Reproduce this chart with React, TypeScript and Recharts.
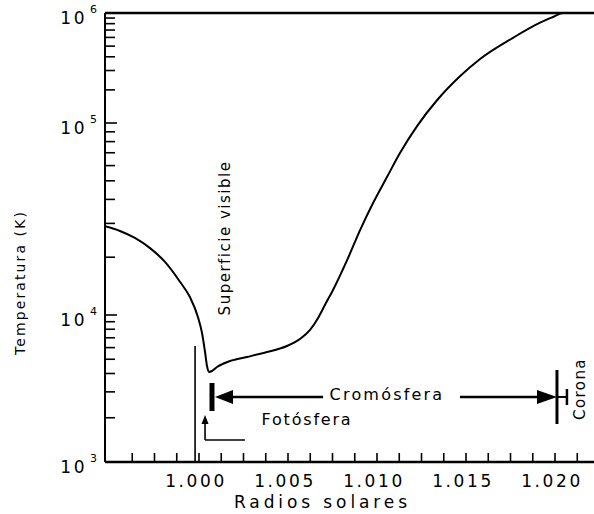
import React from 'react';
import { LineChart, Line, XAxis, YAxis, ReferenceLine, ReferenceDot } from 'recharts';

// ---- data ----
const radius = [
  0.99472, 0.99556, 0.9964, 0.99725, 0.99809, 0.99893, 0.99949, 0.99994, 1.00017, 1.00034,
  1.00045, 1.00056, 1.00073, 1.00101, 1.00174, 1.0027, 1.00382, 1.00494, 1.00567, 1.00624,
  1.00669, 1.00708, 1.00753, 1.00832, 1.00905, 1.00978, 1.01056, 1.01129, 1.01225, 1.01337,
  1.01466, 1.01579, 1.01764, 1.01916, 1.01989, 1.02045, 1.02219,
];
const temperature = [
  29000, 27400, 25200, 22300, 18900, 14900, 12400, 9700, 7540, 5600,
  4500, 4100, 4160, 4430, 4860, 5180, 5600, 6150, 6870, 7910,
  9540, 11300, 13500, 19300, 27700, 38300, 52300, 69800, 96400, 161000,
  266000, 382000, 595000, 818000, 920000, 1000000, 1000000,
];

const X_TICKS = [
  0.99625, 0.9975, 0.99875, 1.0, 1.00125, 1.0025, 1.00375, 1.005, 1.00625, 1.0075, 1.00875,
  1.01, 1.01125, 1.0125, 1.01375, 1.015, 1.01625, 1.0175, 1.01875, 1.02, 1.02125,
];
const X_TICK_LABELS = ['1.000', '1.005', '1.010', '1.015', '1.020'];
const Y_MAJOR = [1e3, 1e4, 1e5, 1e6];
const Y_EXP_LABELS = ['3', '4', '5', '6'];
const Y_MINOR = [
  2e3, 3e3, 4e3, 5e3, 6e3, 7e3, 8e3, 9e3,
  2e4, 3e4, 4e4, 5e4, 6e4, 7e4, 8e4, 9e4,
  2e5, 3e5, 4e5, 5e5, 6e5, 7e5, 8e5, 9e5,
];

// annotation anchors (data coordinates)
const SURFACE = { x: 0.99978, yTop: 6150, labelX: 1.00146, labelY: 25180 };
const PHOTO = { x: 1.00034, base: 1411, tip: 2088, endX: 1.00258, labelX: 1.00607, labelY: 1931 };
const CHROMO = {
  t: 2770, barX: 1.00073, barLo: 2222, barHi: 3446,
  leftTip: 1.0009, leftEnd: 1.00697, rightStart: 1.01466, rightTip: 1.02011,
  rBarLo: 1814, rBarHi: 4226, stubX: 1.02067, stubLo: 2443, stubHi: 3138,
  labelX: 1.01056, labelY: 2857,
};
const CORONA = { x: 1.0214, y: 3138 };

const data = radius.map((r, i) => ({ r, t: temperature[i] }));

// layout
const CHART_W = 594;
const CHART_H = 514;
const Y_AXIS_W = 105;
const X_AXIS_H = 52;
const TOP = 13;

// printed axis: decades are not equally spaced in the original drawing
const DECADE_POS = [0, 0.3274, 0.755, 1];
function brokenLogScale(): any {
  let dom: number[] = [1e3, 1e6];
  let rng: number[] = [1, 0];
  const scale: any = (v: number) => {
    const lo = Math.log10(dom[0]);
    const lv = Math.log10(v) - lo;
    const n = DECADE_POS.length - 1;
    const i = Math.min(Math.max(Math.floor(lv), 0), n - 1);
    const f = DECADE_POS[i] + (lv - i) * (DECADE_POS[i + 1] - DECADE_POS[i]);
    return rng[0] + f * (rng[1] - rng[0]);
  };
  scale.domain = (d?: number[]) => {
    if (d === undefined) return dom.slice();
    dom = d.map(Number);
    return scale;
  };
  scale.range = (r?: number[]) => {
    if (r === undefined) return rng.slice();
    rng = r.map(Number);
    return scale;
  };
  scale.copy = () => {
    const s = brokenLogScale();
    s.domain(dom);
    s.range(rng);
    return s;
  };
  scale.ticks = () => [...Y_MAJOR, ...Y_MINOR];
  return scale;
}
const yScale = brokenLogScale();

const FONT = 'DejaVu Sans';

const XTick = (p: any) => {
  const { x, y, payload } = p;
  const v = payload.value;
  const label = X_TICK_LABELS.find((l) => Math.abs(parseFloat(l) - v) < 1e-7);
  return (
    <g>
      <line x1={x} x2={x} y1={y} y2={y - 9} stroke="#000" strokeWidth={1.6} />
      {label && (
        <text x={x - 3} y={y + 25} textAnchor="middle" fontFamily={FONT} fontSize={17} letterSpacing={2.6} fill="#000">
          {label}
        </text>
      )}
    </g>
  );
};

const YTick = (p: any) => {
  const { y, payload } = p;
  const x = Y_AXIS_W; // the axis line (plot left edge)
  const v = payload.value;
  const idx = Y_MAJOR.indexOf(v);
  const major = idx >= 0;
  return (
    <g>
      <line x1={x} x2={x + (major ? 12 : 10)} y1={y} y2={y} stroke="#000" strokeWidth={1.6} />
      {major && (
        <text x={x - 8} y={y + 11} textAnchor="end" fontFamily={FONT} fontSize={17} fill="#000">
          <tspan letterSpacing={2.5}>10</tspan>
          <tspan dx={3} dy={-11} fontSize={11}>{Y_EXP_LABELS[idx]}</tspan>
        </text>
      )}
    </g>
  );
};

const YTitle = (p: any) => {
  const vb = p.viewBox || { x: 0, y: TOP, width: Y_AXIS_W, height: 449 };
  const cx = 20;
  const cy = vb.y + vb.height / 2 + 45;
  return (
    <text x={cx} y={cy} transform={`rotate(-90, ${cx}, ${cy})`} textAnchor="middle" dominantBaseline="central"
      fontFamily={FONT} fontSize={14} letterSpacing={2.1} fill="#000">
      Temperatura (K)
    </text>
  );
};

const XTitle = (p: any) => {
  const vb = p.viewBox || { x: Y_AXIS_W, y: 462, width: 489, height: X_AXIS_H };
  const cx = vb.x + vb.width / 2 - 27;
  const cy = vb.y + 46;
  return (
    <text x={cx} y={cy} textAnchor="middle" fontFamily={FONT} fontSize={17} letterSpacing={3.9} fill="#000">
      Radios solares
    </text>
  );
};

const LeftArrow = (p: any) => {
  const { x1, y1, x2, y2 } = p;
  return (
    <g>
      <line x1={x1 + 15} y1={y1} x2={x2} y2={y2} stroke="#000" strokeWidth={2.6} />
      <polygon points={`${x1},${y1} ${x1 + 18},${y1 - 7} ${x1 + 18},${y1 + 7}`} fill="#000" />
    </g>
  );
};

const RightArrow = (p: any) => {
  const { x1, y1, x2, y2 } = p;
  return (
    <g>
      <line x1={x1} y1={y1} x2={x2 - 15} y2={y2} stroke="#000" strokeWidth={2.6} />
      <polygon points={`${x2},${y2} ${x2 - 20},${y2 - 7} ${x2 - 20},${y2 + 7}`} fill="#000" />
    </g>
  );
};

const UpArrow = (p: any) => {
  const { x1, y1, x2, y2 } = p;
  return (
    <g>
      <line x1={x1} y1={y1} x2={x2} y2={y2 + 6} stroke="#000" strokeWidth={1.6} />
      <polygon points={`${x2},${y2} ${x2 - 3.5},${y2 + 9} ${x2 + 3.5},${y2 + 9}`} fill="#000" />
    </g>
  );
};

const textShape = (label: string, size: number, spacing: number, rotate: boolean) => (p: any) => {
  const { cx, cy } = p;
  return (
    <text x={cx} y={cy} transform={rotate ? `rotate(-90, ${cx}, ${cy})` : undefined} textAnchor="middle"
      dominantBaseline="central" fontFamily={FONT} fontSize={size} letterSpacing={spacing} fill="#000">
      {label}
    </text>
  );
};

export default function App() {
  return (
    <div style={{ position: 'absolute', left: 0, top: 0, width: CHART_W, height: CHART_H, background: '#fff' }}>
      <LineChart width={CHART_W} height={CHART_H} data={data} margin={{ top: TOP, right: 0, bottom: 0, left: 0 }}>
        <XAxis
          dataKey="r"
          type="number"
          domain={[0.99472, 1.02219]}
          allowDataOverflow
          ticks={X_TICKS}
          interval={0}
          tickSize={0}
          tickMargin={0}
          tickLine={false}
          axisLine={{ stroke: '#000', strokeWidth: 2.5 }}
          tick={XTick}
          height={X_AXIS_H}
          label={{ content: XTitle }}
        />
        <YAxis
          type="number"
          scale={yScale}
          domain={[1e3, 1e6]}
          allowDataOverflow
          ticks={[...Y_MAJOR, ...Y_MINOR]}
          interval={0}
          tickSize={0}
          tickMargin={0}
          tickLine={false}
          axisLine={{ stroke: '#000', strokeWidth: 2 }}
          tick={YTick}
          width={Y_AXIS_W}
          label={{ content: YTitle }}
        />
        <ReferenceLine y={1e6} stroke="#000" strokeWidth={2.5} ifOverflow="visible" />
        <Line
          dataKey="t"
          type="monotone"
          stroke="#000"
          strokeWidth={2}
          dot={false}
          activeDot={false}
          isAnimationActive={false}
        />
        {/* visible surface marker */}
        <ReferenceLine
          segment={[{ x: SURFACE.x, y: 1e3 }, { x: SURFACE.x, y: SURFACE.yTop }]}
          stroke="#000"
          strokeWidth={1.6}
          ifOverflow="visible"
        />
        <ReferenceDot x={SURFACE.labelX} y={SURFACE.labelY} ifOverflow="visible"
          shape={textShape('Superficie visible', 15, 1.5, true)} />
        {/* photosphere arrow */}
        <ReferenceLine
          segment={[{ x: PHOTO.x, y: PHOTO.base }, { x: PHOTO.x, y: PHOTO.tip }]}
          shape={UpArrow}
          ifOverflow="visible"
        />
        <ReferenceLine
          segment={[{ x: PHOTO.x, y: PHOTO.base }, { x: PHOTO.endX, y: PHOTO.base }]}
          stroke="#000"
          strokeWidth={1.6}
          ifOverflow="visible"
        />
        <ReferenceDot x={PHOTO.labelX} y={PHOTO.labelY} ifOverflow="visible"
          shape={textShape('Fotósfera', 16, 1.8, false)} />
        {/* chromosphere bar */}
        <ReferenceLine
          segment={[{ x: CHROMO.barX, y: CHROMO.barLo }, { x: CHROMO.barX, y: CHROMO.barHi }]}
          stroke="#000"
          strokeWidth={5}
          ifOverflow="visible"
        />
        <ReferenceLine
          segment={[{ x: CHROMO.leftTip, y: CHROMO.t }, { x: CHROMO.leftEnd, y: CHROMO.t }]}
          shape={LeftArrow}
          ifOverflow="visible"
        />
        <ReferenceLine
          segment={[{ x: CHROMO.rightStart, y: CHROMO.t }, { x: CHROMO.rightTip, y: CHROMO.t }]}
          shape={RightArrow}
          ifOverflow="visible"
        />
        <ReferenceLine
          segment={[{ x: CHROMO.rightTip, y: CHROMO.rBarLo }, { x: CHROMO.rightTip, y: CHROMO.rBarHi }]}
          stroke="#000"
          strokeWidth={3}
          ifOverflow="visible"
        />
        <ReferenceLine
          segment={[{ x: CHROMO.rightTip, y: CHROMO.t }, { x: CHROMO.stubX, y: CHROMO.t }]}
          stroke="#000"
          strokeWidth={2}
          ifOverflow="visible"
        />
        <ReferenceLine
          segment={[{ x: CHROMO.stubX, y: CHROMO.stubLo }, { x: CHROMO.stubX, y: CHROMO.stubHi }]}
          stroke="#000"
          strokeWidth={2.5}
          ifOverflow="visible"
        />
        <ReferenceDot x={CHROMO.labelX} y={CHROMO.labelY} ifOverflow="visible"
          shape={textShape('Cromósfera', 16, 2.2, false)} />
        <ReferenceDot x={CORONA.x} y={CORONA.y} ifOverflow="visible"
          shape={textShape('Corona', 15, 1.4, true)} />
      </LineChart>
    </div>
  );
}
